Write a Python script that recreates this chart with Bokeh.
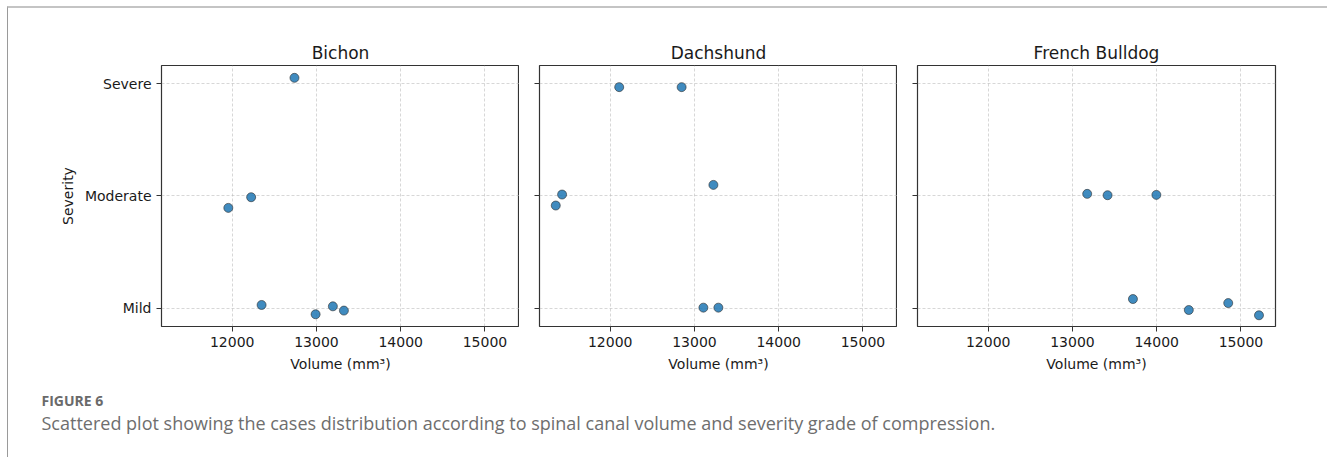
from bokeh.plotting import figure
from bokeh.layouts import row, column
from bokeh.models import Range1d, FixedTicker, Label, InlineStyleSheet
from bokeh.embed import file_html
from bokeh.resources import INLINE

# ---- data ----
severity_levels = ["Mild", "Moderate", "Severe"]
x_ticks = [12000, 13000, 14000, 15000]

breeds = ["Bichon", "Dachshund", "French Bulldog"]

bichon_volume = [12739, 12225, 11954, 12349, 12990, 13195, 13326]
bichon_severity = ["Severe", "Moderate", "Moderate", "Mild", "Mild", "Mild", "Mild"]
bichon_jitter = [0.053, -0.012, -0.107, 0.027, -0.056, 0.015, -0.023]

dachshund_volume = [12107, 12848, 11429, 11354, 13225, 13106, 13284]
dachshund_severity = ["Severe", "Severe", "Moderate", "Moderate", "Moderate", "Mild", "Mild"]
dachshund_jitter = [-0.030, -0.030, 0.012, -0.086, 0.098, 0.003, 0.003]

frenchbulldog_volume = [13175, 13417, 13996, 13718, 14381, 14849, 15214]
frenchbulldog_severity = ["Moderate", "Moderate", "Moderate", "Mild", "Mild", "Mild", "Mild"]
frenchbulldog_jitter = [0.018, 0.006, 0.009, 0.080, -0.018, 0.044, -0.065]

caption_label = "FIGURE 6"
caption_text = ("Scattered plot showing the cases distribution according to spinal canal "
                "volume and severity grade of compression.")

series = [
    (bichon_volume, bichon_severity, bichon_jitter),
    (dachshund_volume, dachshund_severity, dachshund_jitter),
    (frenchbulldog_volume, frenchbulldog_severity, frenchbulldog_jitter),
]

FONT = "DejaVu Sans"
TXT = "#1a1a1a"

plots = []
for i, (breed, (vol, sev, jit)) in enumerate(zip(breeds, series)):
    yvals = [severity_levels.index(s) + j for s, j in zip(sev, jit)]
    p = figure(
        frame_width=358, frame_height=261,
        min_border_left=153 if i == 0 else 20,
        min_border_right=52 if i == 2 else 0,
        min_border_top=57, min_border_bottom=59,
        x_range=Range1d(11161, 15410), y_range=Range1d(-0.165, 2.163),
        output_backend="svg", toolbar_location=None, title=breed,
    )
    p.title.align = "center"
    p.title.text_font = FONT
    p.title.text_font_size = "17px"
    p.title.text_font_style = "normal"
    p.title.text_color = TXT
    p.title.standoff = 6

    p.scatter(vol, yvals, size=9, fill_color="#1f77b4", fill_alpha=0.85,
              line_color="#2b2b2b", line_width=0.6)

    p.outline_line_color = "#333333"
    p.outline_line_width = 1.2
    p.outline_line_alpha = 1

    p.xaxis.ticker = FixedTicker(ticks=x_ticks)
    p.yaxis.ticker = FixedTicker(ticks=[0, 1, 2])
    if i == 0:
        p.yaxis.major_label_overrides = {k: s for k, s in enumerate(severity_levels)}
        p.yaxis.axis_label = "Severity"
    else:
        p.yaxis.major_label_overrides = {k: "" for k in range(3)}
    p.xaxis.axis_label = "Volume (mm³)"

    for ax in (p.xaxis[0], p.yaxis[0]):
        ax.axis_line_color = None
        ax.major_tick_line_color = "#333333"
        ax.major_tick_out = 5
        ax.major_tick_in = 0
        ax.minor_tick_line_color = None
        ax.major_label_text_font = FONT
        ax.major_label_text_font_size = "14px"
        ax.major_label_text_color = TXT
        ax.major_label_standoff = 5
        ax.axis_label_text_font = FONT
        ax.axis_label_text_font_size = "14px"
        ax.axis_label_text_font_style = "normal"
        ax.axis_label_text_color = TXT
        ax.axis_label_standoff = 6

    for g in (p.xgrid[0], p.ygrid[0]):
        g.grid_line_color = "#b8b8b8"
        g.grid_line_dash = "3 2"
        g.grid_line_width = 0.7
        g.grid_line_alpha = 0.8
    plots.append(p)

cap = figure(width=1319, height=72, x_range=Range1d(0, 1319), y_range=Range1d(0, 72),
             output_backend="svg", toolbar_location=None, min_border=0)
cap.xaxis.visible = False
cap.yaxis.visible = False
cap.xgrid.visible = False
cap.ygrid.visible = False
cap.outline_line_color = None
cap.add_layout(Label(x=33, y=57, x_units="screen", y_units="screen", text=caption_label,
                     text_font="Open Sans", text_font_size="14px", text_font_style="bold",
                     text_color="#6a6a6a", text_baseline="middle"))
cap.add_layout(Label(x=33, y=35, x_units="screen", y_units="screen", text=caption_text,
                     text_font="Open Sans", text_font_size="18px",
                     text_color="#6e6e6e", text_baseline="middle"))

frame_css = InlineStyleSheet(css=":host { margin-top: 6px; margin-left: 7px; "
                                 "border-top: 2px solid #c4c4c4; border-left: 1px solid #9a9a9a; }")

layout = column(
    row(*plots, spacing=0),
    cap,
    spacing=0,
    stylesheets=[frame_css],
)

open("out.html", "w").write(file_html(layout, INLINE))
